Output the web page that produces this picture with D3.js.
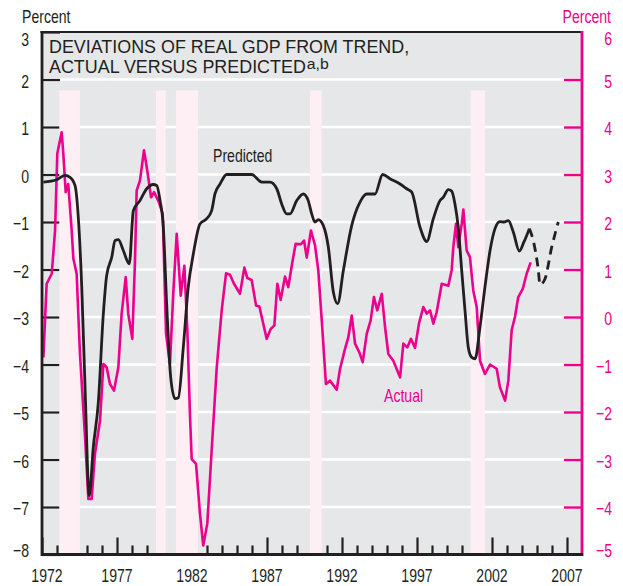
<!DOCTYPE html>
<html>
<head>
<meta charset="utf-8">
<script src="https://cdn.jsdelivr.net/npm/d3@7"></script>
<style>
  body { margin: 0; background: #fff; }
  svg text { font-family: "Liberation Sans", Arial, sans-serif; fill: #231f20; }
</style>
</head>
<body>
<div id="chart"></div>
<script>
// predicted deviation (left axis, percent) [year, value]
const predictedSeries = [
  [1972.09, -0.16], [1972.98, -0.11], [1973.53, -0.02], [1973.87, -0.06], [1974.2, -0.23],
  [1974.42, -0.9], [1974.65, -2.37], [1974.87, -4.48], [1975.15, -6.76], [1975.42, -5.74],
  [1975.75, -4.82], [1976.09, -2.93], [1976.31, -2.13], [1976.65, -1.74], [1976.87, -1.39],
  [1977.09, -1.37], [1977.42, -1.6], [1977.82, -1.88], [1978.09, -0.76], [1978.53, -0.55],
  [1978.98, -0.3], [1979.42, -0.21], [1979.65, -0.23], [1979.87, -0.55], [1980.09, -1.11],
  [1980.31, -2.72], [1980.58, -4.27], [1980.87, -4.72], [1981.09, -4.7], [1981.42, -3.64],
  [1981.75, -2.37], [1982.09, -1.67], [1982.53, -1.04], [1982.98, -0.93], [1983.31, -0.76],
  [1983.53, -0.41], [1983.87, -0.2], [1984.31, 0], [1985.98, 0], [1986.65, -0.16],
  [1987.2, -0.16], [1987.65, -0.3], [1987.98, -0.62], [1988.31, -0.83], [1988.53, -0.83],
  [1988.98, -0.55], [1989.42, -0.41], [1989.75, -0.55], [1989.98, -0.83], [1990.2, -1.0],
  [1990.42, -0.95], [1990.75, -1.07], [1991.09, -1.53], [1991.42, -2.47], [1991.71, -2.72],
  [1992.09, -2.02], [1992.65, -1.07], [1993.2, -0.58], [1993.65, -0.41], [1994.2, -0.41],
  [1994.71, 0], [1995.2, -0.09], [1995.87, -0.2], [1996.31, -0.3], [1996.65, -0.37],
  [1997.2, -1.11], [1997.65, -1.41], [1998.09, -0.93], [1998.53, -0.55], [1998.75, -0.48],
  [1999.09, -0.32], [1999.31, -0.35], [1999.53, -0.62], [1999.75, -1.11], [1999.98, -2.02],
  [2000.2, -2.86], [2000.42, -3.64], [2000.65, -3.85], [2000.87, -3.88], [2001.2, -3.21],
  [2001.53, -2.37], [2001.87, -1.6], [2002.2, -1.14], [2002.53, -0.99], [2002.8, -1.0],
  [2003.09, -0.97], [2003.42, -1.21], [2003.82, -1.61], [2004.13, -1.42], [2004.49, -1.14]
];

// dashed continuation of predicted
const forecastSeries = [
  [2004.49, -1.14], [2004.75, -1.39], [2005.09, -2.02], [2005.2, -2.32], [2005.53, -2.2],
  [2005.98, -1.53], [2006.42, -1.0]
];

// actual deviation (right axis, percent) [year, value]
const actualSeries = [
  [1972.09, -0.85], [1972.31, 0.7], [1972.65, 0.91], [1972.87, 1.82], [1973.02, 3.44],
  [1973.31, 3.89], [1973.42, 3.44], [1973.58, 2.63], [1973.75, 2.8], [1973.98, 1.82],
  [1974.09, 1.23], [1974.31, 0.91], [1974.53, -0.77], [1974.87, -2.53], [1975.09, -3.83],
  [1975.31, -3.83], [1975.53, -2.88], [1975.87, -2.18], [1976.09, -0.99], [1976.31, -1.06],
  [1976.53, -1.41], [1976.8, -1.55], [1977.09, -1.06], [1977.31, 0.07], [1977.58, 0.84],
  [1977.75, 0.07], [1978.02, -0.46], [1978.2, 1.19], [1978.31, 2.66], [1978.53, 2.87],
  [1978.8, 3.51], [1979.02, 3.08], [1979.27, 2.52], [1979.47, 2.63], [1979.75, 2.45],
  [1980.05, 2.17], [1980.27, -0.35], [1980.53, -0.99], [1980.75, 0.49], [1980.98, 1.75],
  [1981.25, 0.45], [1981.49, 1.08], [1981.69, -0.28], [1981.87, -2.11], [1981.98, -2.99],
  [1982.27, -3.09], [1982.53, -4.14], [1982.75, -4.81], [1983.02, -4.35], [1983.31, -2.81],
  [1983.65, -1.06], [1983.98, 0.14], [1984.27, 0.92], [1984.53, 0.89], [1984.8, 0.7],
  [1985.2, 0.49], [1985.49, 1.04], [1985.69, 0.82], [1985.98, 0.78], [1986.27, 0.24],
  [1986.49, 0.22], [1986.98, -0.46], [1987.25, -0.25], [1987.49, -0.18], [1987.69, 0.7],
  [1987.91, 0.36], [1988.2, 0.85], [1988.42, 0.63], [1988.71, 1.19], [1988.91, 1.54],
  [1989.25, 1.53], [1989.47, 1.61], [1989.65, 1.25], [1989.93, 1.82], [1990.2, 1.51],
  [1990.42, 0.98], [1990.65, -0.07], [1990.93, -1.41], [1991.2, -1.34], [1991.65, -1.53],
  [1991.87, -1.09], [1992.2, -0.67], [1992.42, -0.43], [1992.65, 0.03], [1992.87, -0.56],
  [1993.15, -0.74], [1993.38, -0.95], [1993.65, -0.35], [1993.91, -0.07], [1994.13, 0.42],
  [1994.35, 0.14], [1994.65, 0.49], [1994.87, -0.21], [1995.09, -0.78], [1995.42, -0.92],
  [1995.87, -1.27], [1996.09, -0.56], [1996.35, -0.64], [1996.6, -0.46], [1996.87, -0.65],
  [1997.13, -0.14], [1997.42, 0.21], [1997.65, 0.07], [1997.87, 0.14], [1998.09, -0.14],
  [1998.31, 0.1], [1998.65, 0.7], [1999.09, 0.66], [1999.31, 0.98], [1999.42, 1.47],
  [1999.6, 1.96], [1999.75, 1.47], [1999.98, 1.96], [2000.09, 2.26], [2000.31, 1.4],
  [2000.53, 1.26], [2000.75, 0.56], [2000.98, 0.21], [2001.2, -0.92], [2001.53, -1.2],
  [2001.87, -1.0], [2002.31, -1.09], [2002.53, -1.48], [2002.87, -1.76], [2003.09, -1.34],
  [2003.31, -0.28], [2003.53, 0.0], [2003.75, 0.42], [2004.05, 0.59], [2004.31, 0.91],
  [2004.58, 1.15]
];

// shaded periods [start, end] in years
const recessions = [
  [1973.15, 1974.53], [1979.6, 1980.25], [1980.93, 1982.4], [1989.87, 1990.65], [2000.58, 2001.53]
];

const leftTicks = [-8, -7, -6, -5, -4, -3, -2, -1, 0, 1, 2, 3];
const rightTicks = [-5, -4, -3, -2, -1, 0, 1, 2, 3, 4, 5, 6];
const yearLabels = [1972, 1977, 1982, 1987, 1992, 1997, 2002, 2007];

const magenta = "#ec008c";
const ink = "#231f20";
const width = 623, height = 586;
const margins = { top: 32, right: 41, bot: 31.5, left: 42 };
const labelSize = "19px";

// squeeze regular sans into a condensed look
function narrow(sel, k = 0.74) {
  sel.each(function () {
    const w = this.getComputedTextLength();
    d3.select(this).attr("textLength", w * k).attr("lengthAdjust", "spacingAndGlyphs");
  });
}

const svg = d3.select("#chart").append("svg")
  .attr("width", width)
  .attr("height", height);

const x = d3.scaleLinear().domain([1972, 2008]).range([margins.left, width - margins.right]);
const yLeft = d3.scaleLinear().domain([-8, 3]).range([height - margins.bot, margins.top]);
const yRight = d3.scaleLinear().domain([-5, 6]).range([height - margins.bot, margins.top]);

// plot background
svg.append("rect")
  .attr("x", x(1972)).attr("y", yLeft(3))
  .attr("width", x(2008) - x(1972)).attr("height", yLeft(-8) - yLeft(3))
  .attr("fill", "#e6e7e8");

// white gridlines
svg.append("g").selectAll("line")
  .data(leftTicks.filter((d) => d > -8 && d < 3))
  .join("line")
  .attr("x1", x(1972)).attr("x2", x(2008))
  .attr("y1", (d) => yLeft(d)).attr("y2", (d) => yLeft(d))
  .attr("stroke", "#fff").attr("stroke-width", 2.4);

// left axis
const leftAxis = svg.append("g")
  .attr("transform", `translate(${x(1972)},0)`)
  .call(d3.axisLeft(yLeft).tickValues(leftTicks).tickSize(-18).tickPadding(13).tickFormat(d3.format("d")));
leftAxis.select(".domain").remove();
leftAxis.selectAll("line").attr("stroke", ink).attr("stroke-width", 2.2);
leftAxis.selectAll("text")
  .style("font-size", labelSize).attr("fill", ink)
  .attr("dy", (d) => (d === 3 ? "0.72em" : d === -8 ? "0.12em" : "0.42em"))
  .call(narrow);

// right axis
const rightAxis = svg.append("g")
  .attr("transform", `translate(${x(2008)},0)`)
  .call(d3.axisRight(yRight).tickValues(rightTicks).tickSize(-18).tickPadding(30).tickFormat(d3.format("d")));
rightAxis.select(".domain").remove();
rightAxis.selectAll("line")
  .attr("stroke", magenta).attr("stroke-width", 2.4)
  .attr("display", (d) => (d === -5 || d === 6 ? "none" : null));
rightAxis.selectAll("text")
  .style("font-size", labelSize).style("fill", magenta)
  .attr("text-anchor", "end")
  .attr("dy", (d) => (d === 6 ? "0.68em" : d === -5 ? "0.12em" : "0.42em"))
  .call(narrow);

// x axis ticks pointing up
const xAxis = svg.append("g")
  .attr("transform", `translate(0,${yLeft(-8)})`)
  .call(d3.axisBottom(x).tickValues(d3.range(1972, 2008)).tickSize(0).tickFormat(""));
xAxis.select(".domain").remove();
xAxis.selectAll(".tick line")
  .attr("y2", (d) => (yearLabels.includes(d) ? -17 : -9))
  .attr("stroke", ink).attr("stroke-width", 2.2);

svg.append("g").selectAll("text")
  .data(yearLabels)
  .join("text")
  .attr("x", (d) => x(d) + (d === 1972 ? 5 : 0))
  .attr("y", 582)
  .attr("text-anchor", "middle")
  .style("font-size", labelSize)
  .text((d) => d)
  .call(narrow);

// shaded recessions
svg.append("g").selectAll("rect")
  .data(recessions)
  .join("rect")
  .attr("x", (d) => x(d[0]))
  .attr("width", (d) => x(d[1]) - x(d[0]))
  .attr("y", yLeft(1.77))
  .attr("height", yLeft(-8) - yLeft(1.77) - 1)
  .attr("fill", "#fdeff4");

// lines
const predLine = d3.line().x((d) => x(d[0])).y((d) => yLeft(d[1])).curve(d3.curveMonotoneX);
const actLine = d3.line().x((d) => x(d[0])).y((d) => yRight(d[1]));

svg.append("path")
  .datum(actualSeries)
  .attr("d", actLine)
  .attr("fill", "none").attr("stroke", magenta).attr("stroke-width", 2.6)
  .attr("stroke-linejoin", "round");

svg.append("path")
  .datum(predictedSeries)
  .attr("d", predLine)
  .attr("fill", "none").attr("stroke", ink).attr("stroke-width", 2.8)
  .attr("stroke-linejoin", "round");

svg.append("path")
  .datum(forecastSeries)
  .attr("d", predLine)
  .attr("fill", "none").attr("stroke", ink).attr("stroke-width", 2.8)
  .attr("stroke-dasharray", "9,6");

// frame
svg.append("line")
  .attr("x1", x(1972) - 1.5).attr("x2", x(2008))
  .attr("y1", yLeft(3)).attr("y2", yLeft(3))
  .attr("stroke", ink).attr("stroke-width", 2.2);
svg.append("line")
  .attr("x1", x(1972)).attr("x2", x(1972))
  .attr("y1", yLeft(3) - 1).attr("y2", yLeft(-8) + 1.5)
  .attr("stroke", ink).attr("stroke-width", 2.8);
svg.append("line")
  .attr("x1", x(1972)).attr("x2", x(2008) + 1.4)
  .attr("y1", yLeft(-8)).attr("y2", yLeft(-8))
  .attr("stroke", ink).attr("stroke-width", 2.8);
svg.append("line")
  .attr("x1", x(2008)).attr("x2", x(2008))
  .attr("y1", yLeft(3) - 1).attr("y2", yLeft(-8) - 1.4)
  .attr("stroke", magenta).attr("stroke-width", 2.8);

// axis titles
svg.append("text")
  .attr("x", 22).attr("y", 23)
  .style("font-size", labelSize)
  .text("Percent")
  .call(narrow);
// right title squeezed with a transform so its box stays inside the page
svg.append("text")
  .attr("transform", "translate(611,23) scale(0.74,1)")
  .attr("text-anchor", "end")
  .style("font-size", labelSize).style("fill", magenta)
  .text("Percent");

// chart title
svg.append("text")
  .attr("x", 49).attr("y", 52.8)
  .style("font-size", "17.9px")
  .text("DEVIATIONS OF REAL GDP FROM TREND,");
const line2 = svg.append("text")
  .attr("x", 49).attr("y", 73)
  .style("font-size", "17.9px")
  .text("ACTUAL VERSUS PREDICTED");
svg.append("text")
  .attr("x", 49 + line2.node().getComputedTextLength() + 1)
  .attr("y", 68.6)
  .style("font-size", "14px")
  .attr("textLength", 22).attr("lengthAdjust", "spacingAndGlyphs")
  .text("a,b");

// series labels
svg.append("text")
  .attr("x", 213).attr("y", 161.5)
  .style("font-size", labelSize)
  .text("Predicted")
  .call(narrow);
svg.append("text")
  .attr("x", 384).attr("y", 401.5)
  .style("font-size", labelSize).style("fill", magenta)
  .text("Actual")
  .call(narrow);
</script>
</body>
</html>
